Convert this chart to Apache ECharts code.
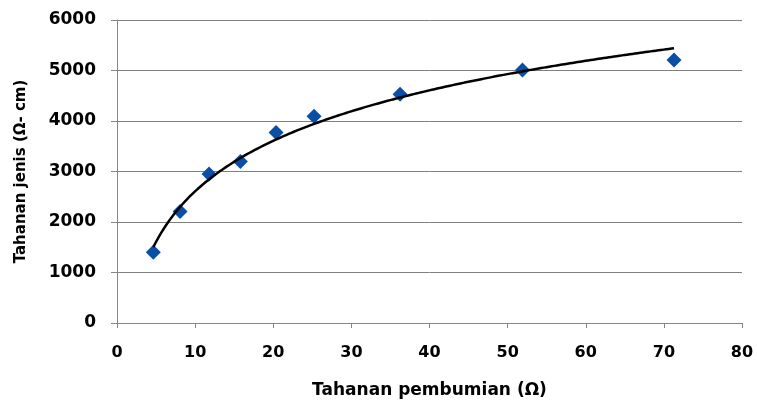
<!DOCTYPE html>
<html>
<head>
<meta charset="utf-8">
<script src="https://cdn.jsdelivr.net/npm/echarts@6/dist/echarts.min.js"></script>
<style>
  html, body { margin: 0; padding: 0; background: #fff; }
  #chart { width: 757px; height: 405px; }
</style>
</head>
<body>
<div id="chart"></div>
<script>
// Measured earthing resistance (Ω) against soil resistivity (Ω-cm)
const tahananPembumian = [4.65, 8.07, 11.78, 15.79, 20.36, 25.22, 36.23, 51.9, 71.3];
const tahananJenis = [1400, 2210, 2950, 3200, 3770, 4095, 4530, 5010, 5210];

const xTicks = [0, 10, 20, 30, 40, 50, 60, 70, 80];
const yTicks = [0, 1000, 2000, 3000, 4000, 5000, 6000];

// Logarithmic least-squares trendline: y = a*ln(x) + b
function logFit(xs, ys) {
  const lx = xs.map(Math.log);
  const n = xs.length;
  const mx = lx.reduce((s, v) => s + v, 0) / n;
  const my = ys.reduce((s, v) => s + v, 0) / n;
  let sxy = 0, sxx = 0;
  for (let i = 0; i < n; i++) {
    sxy += (lx[i] - mx) * (ys[i] - my);
    sxx += (lx[i] - mx) * (lx[i] - mx);
  }
  const a = sxy / sxx;
  return { a: a, b: my - a * mx };
}
const fit = logFit(tahananPembumian, tahananJenis);
const xMin = Math.min(...tahananPembumian);
const xMax = Math.max(...tahananPembumian);
const trend = [];
for (let i = 0; i <= 200; i++) {
  const x = xMin + (xMax - xMin) * i / 200;
  trend.push([x, fit.a * Math.log(x) + fit.b]);
}

const chart = echarts.init(document.getElementById('chart'), null, { renderer: 'canvas' });
const axisGray = '#868686';
const font = 'DejaVu Sans';

chart.setOption({
  animation: false,
  grid: { left: 117, right: 15, top: 20, bottom: 82, containLabel: false },
  xAxis: {
    type: 'value',
    min: xTicks[0], max: xTicks[xTicks.length - 1], interval: 10,
    name: 'Tahanan pembumian (Ω)',
    nameLocation: 'middle', nameGap: 59,
    nameTextStyle: { fontFamily: font, fontWeight: 'bold', fontSize: 17, color: '#000' },
    axisLine: { show: true, onZero: false, lineStyle: { color: axisGray, width: 1 } },
    axisTick: { show: true, inside: false, length: 5, lineStyle: { color: axisGray } },
    axisLabel: {
      margin: 22, fontFamily: font, fontWeight: 'bold', fontSize: 16, color: '#000',
      formatter: v => xTicks.includes(v) ? String(v) : ''
    },
    splitLine: { show: false }
  },
  yAxis: {
    type: 'value',
    min: yTicks[0], max: yTicks[yTicks.length - 1], interval: 1000,
    name: 'Tahanan jenis (Ω- cm)',
    nameLocation: 'middle', nameGap: 88, nameRotate: 90,
    nameTextStyle: { fontFamily: font, fontWeight: 'bold', fontSize: 15, color: '#000' },
    axisLine: { show: true, onZero: false, lineStyle: { color: axisGray, width: 1 } },
    axisTick: { show: true, inside: false, length: 6, lineStyle: { color: axisGray } },
    axisLabel: {
      margin: 21, fontFamily: font, fontWeight: 'bold', fontSize: 17, color: '#000',
      formatter: v => yTicks.includes(v) ? String(v) : ''
    },
    splitLine: { show: true, lineStyle: { color: '#808080', width: 1 } }
  },
  series: [
    {
      type: 'scatter',
      data: tahananPembumian.map((x, i) => [x, tahananJenis[i]]),
      symbol: 'diamond',
      symbolSize: 15,
      itemStyle: { color: '#0a4ea6', opacity: 1 },
      z: 2
    },
    {
      type: 'line',
      data: trend,
      showSymbol: false,
      smooth: false,
      lineStyle: { color: '#000', width: 2.5 },
      z: 3
    }
  ]
});
</script>
</body>
</html>
